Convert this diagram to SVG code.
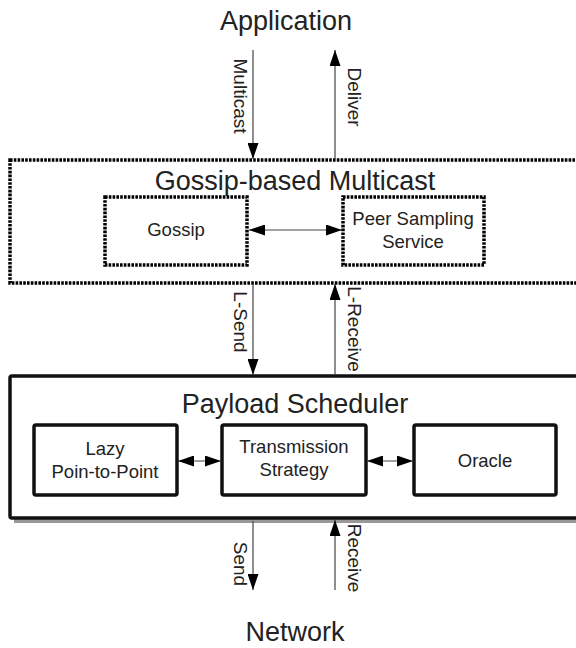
<svg xmlns="http://www.w3.org/2000/svg" width="576" height="648" viewBox="0 0 576 648">
<defs>
<marker id="ah" viewBox="0 0 16 11" refX="16" refY="5.5" markerWidth="16" markerHeight="11" markerUnits="userSpaceOnUse" orient="auto-start-reverse">
<path d="M0,0 L16,5.5 L0,11 Z" fill="#000"/>
</marker>
</defs>
<style>
text{font-family:"Liberation Sans",Arial,sans-serif;fill:#222;text-anchor:middle}
.big{font-size:27px}
.mid{font-size:18.5px}
.lbl{font-size:19px}
.dot{fill:#fff;stroke:#000;stroke-width:3.5;stroke-dasharray:2.6 1.2}
.solid{fill:#fff;stroke:#111;stroke-width:3.5}
.ln{stroke:#444;stroke-width:1.2;fill:none}
</style>
<rect width="576" height="648" fill="#fff"/>

<g id="application"><text class="big" x="286" y="30">Application</text></g>

<g id="gossip-based-multicast">
<rect class="dot" x="10" y="160" width="600" height="123"/>
<text class="big" x="295" y="190">Gossip-based Multicast</text>
</g>
<g id="gossip">
<rect class="dot" x="105" y="197" width="142" height="68"/>
<text class="mid" x="176" y="236">Gossip</text>
</g>
<g id="peer-sampling">
<rect class="dot" x="343" y="197" width="141" height="68"/>
<text class="mid" x="413" y="225">Peer Sampling</text>
<text class="mid" x="413" y="248">Service</text>
</g>

<g id="payload-scheduler">
<rect x="14" y="381" width="600" height="142" fill="#999"/>
<rect class="solid" x="10" y="376" width="600" height="142" rx="2"/>
<text class="big" x="295" y="413">Payload Scheduler</text>
</g>
<g id="lazy">
<rect class="solid" x="34" y="425" width="143" height="70" rx="2"/>
<text class="mid" x="105" y="455">Lazy</text>
<text class="mid" x="105" y="478">Poin-to-Point</text>
</g>
<g id="transmission">
<rect class="solid" x="222" y="425" width="144" height="70" rx="2"/>
<text class="mid" x="294" y="453">Transmission</text>
<text class="mid" x="294" y="476">Strategy</text>
</g>
<g id="oracle">
<rect class="solid" x="414" y="425" width="142" height="70" rx="2"/>
<text class="mid" x="485" y="467">Oracle</text>
</g>

<g id="network"><text class="big" x="295" y="641">Network</text></g>

<g id="connectors">
<line class="ln" x1="253" y1="50" x2="253" y2="159" marker-end="url(#ah)"/>
<line class="ln" x1="335" y1="159" x2="335" y2="50" marker-end="url(#ah)"/>
<line class="ln" x1="249" y1="230" x2="342" y2="230" marker-start="url(#ah)" marker-end="url(#ah)"/>
<line class="ln" x1="253" y1="284" x2="253" y2="375" marker-end="url(#ah)"/>
<line class="ln" x1="335" y1="375" x2="335" y2="284" marker-end="url(#ah)"/>
<line class="ln" x1="178" y1="461" x2="221" y2="461" marker-start="url(#ah)" marker-end="url(#ah)"/>
<line class="ln" x1="367" y1="461" x2="413" y2="461" marker-start="url(#ah)" marker-end="url(#ah)"/>
<line class="ln" x1="253" y1="521" x2="253" y2="590" marker-end="url(#ah)"/>
<line class="ln" x1="335" y1="590" x2="335" y2="520" marker-end="url(#ah)"/>
<text class="lbl" transform="translate(234,96) rotate(90)">Multicast</text>
<text class="lbl" transform="translate(348,97) rotate(90)">Deliver</text>
<text class="lbl" transform="translate(234,322) rotate(90)">L-Send</text>
<text class="lbl" transform="translate(348,329) rotate(90)">L-Receive</text>
<text class="lbl" transform="translate(234,564) rotate(90)">Send</text>
<text class="lbl" transform="translate(348,558) rotate(90)">Receive</text>
</g>
</svg>
